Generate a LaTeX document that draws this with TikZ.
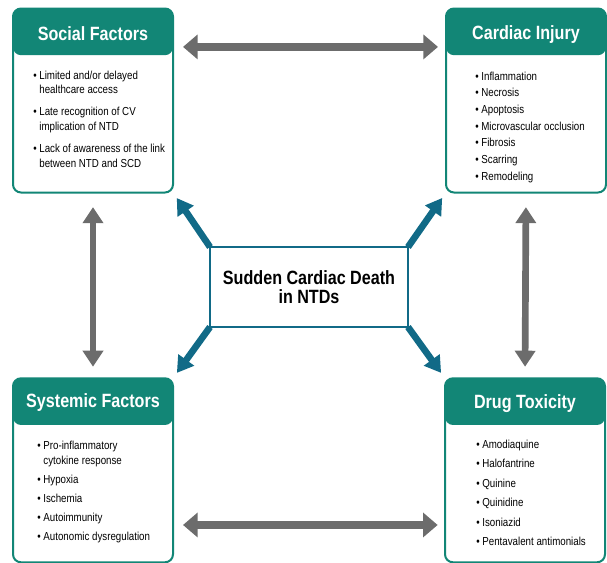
\documentclass[tikz,border=0pt]{standalone}
\usepackage{fontspec}
\setmainfont{Liberation Sans}[FakeStretch=0.84]
\usetikzlibrary{arrows.meta}
\definecolor{headteal}{RGB}{18,134,118}
\definecolor{spokeblue}{RGB}{17,106,135}
\definecolor{linkgray}{RGB}{108,108,108}
\newcommand{\blt}{\textbullet\ }
\newcommand{\cont}{\phantom{\textbullet\ }}
\begin{document}
\begin{tikzpicture}[x=0.75pt,y=-0.75pt,
    panel/.style={draw=headteal, line width=1.5pt, rounded corners=6pt, fill=white,
      minimum width=120pt, minimum height=138pt, inner sep=0pt, outer sep=0pt,
      path picture={\fill[headteal] (path picture bounding box.north west)
        rectangle ([yshift=-35pt]path picture bounding box.north east);}},
    head/.style={text=white, font=\fontsize{14.4}{16}\selectfont\bfseries},
    items/.style={align=left, inner sep=0pt, anchor=north west},
    core/.style={draw=spokeblue, line width=1.5pt, fill=white, outer sep=0pt,
      minimum width=148.5pt, minimum height=60pt, align=center,
      font=\fontsize{14.4}{13.7}\selectfont\bfseries},
    spoke/.style={draw=spokeblue, line width=5pt, shorten >=5pt,
      -{Triangle[length=12pt,width=14pt]}},
    link/.style={draw=linkgray, line width=6pt, >={Triangle[length=11pt,width=18pt]}, <->},
    vlink/.style={draw=linkgray, line width=5pt, >={Triangle[length=12pt,width=15pt]}, <->}]
    \useasboundingbox (0,0) rectangle (607,562);
    % four panels
    \node[panel] (social) at (93,100.5) {};
    \node[panel] (cardiac) at (526,100.5) {};
    \node[panel] (systemic) at (93,470.3) {};
    \node[panel] (drug) at (525,470.3) {};
    \node[head] (socialhead) at ([yshift=-18.8pt]social.north) {Social Factors};
    \node[head] (cardiachead) at ([yshift=-19.3pt]cardiac.north) {Cardiac Injury};
    \node[head] (systemichead) at ([yshift=-18.5pt]systemic.north) {Systemic Factors};
    \node[head] (drughead) at ([yshift=-18.8pt]drug.north) {Drug Toxicity};
    \node[items, font=\fontsize{8.7}{11}\selectfont] (sociallist) at (33,70.5) {%
      \blt Limited and/or delayed\\ \cont healthcare access\\[5.5pt]
      \blt Late recognition of CV\\ \cont implication of NTD\\[5.5pt]
      \blt Lack of awareness of the link\\ \cont between NTD and SCD};
    \node[items, font=\fontsize{8.7}{12.5}\selectfont] (cardiaclist) at (475,71.5) {%
      \blt Inflammation\\ \blt Necrosis\\ \blt Apoptosis\\
      \blt Microvascular occlusion\\ \blt Fibrosis\\ \blt Scarring\\
      \blt Remodeling};
    \node[items, font=\fontsize{8.7}{11.25}\selectfont] (systemiclist) at (37,440.5) {%
      \blt Pro-inflammatory\\ \cont cytokine response\\[3pt]
      \blt Hypoxia\\[3pt] \blt Ischemia\\[3pt] \blt Autoimmunity\\[3pt]
      \blt Autonomic dysregulation};
    \node[items, font=\fontsize{8.7}{14.6}\selectfont] (druglist) at (476,439.5) {%
      \blt Amodiaquine\\ \blt Halofantrine\\ \blt Quinine\\ \blt Quinidine\\
      \blt Isoniazid\\ \blt Pentavalent antimonials};
    % centre
    \node[core] (core) at (309,287) {Sudden Cardiac Death\\in NTDs};
    \draw[spoke] (core.north west) -- (social.south east);
    \draw[spoke] (core.north east) -- (cardiac.south west);
    \draw[spoke] (core.south west) -- (systemic.north east);
    \draw[spoke] (core.south east) -- (drug.north west);
    % grey two-way arrows
    \draw[link, shorten <=7.5pt, shorten >=6pt] ([yshift=-28.8pt]social.north east) -- ([yshift=-28.8pt]cardiac.north west);
    \draw[link, shorten <=7.5pt, shorten >=5.5pt] ([yshift=-110pt]systemic.north east) -- ([yshift=-110pt]drug.north west);
    \draw[vlink, shorten <=11pt, shorten >=8.7pt] (social.south) -- (systemic.north);
    \draw[vlink, shorten <=11pt, shorten >=8.7pt] (cardiac.south) -- (drug.north);
\end{tikzpicture}
\end{document}
